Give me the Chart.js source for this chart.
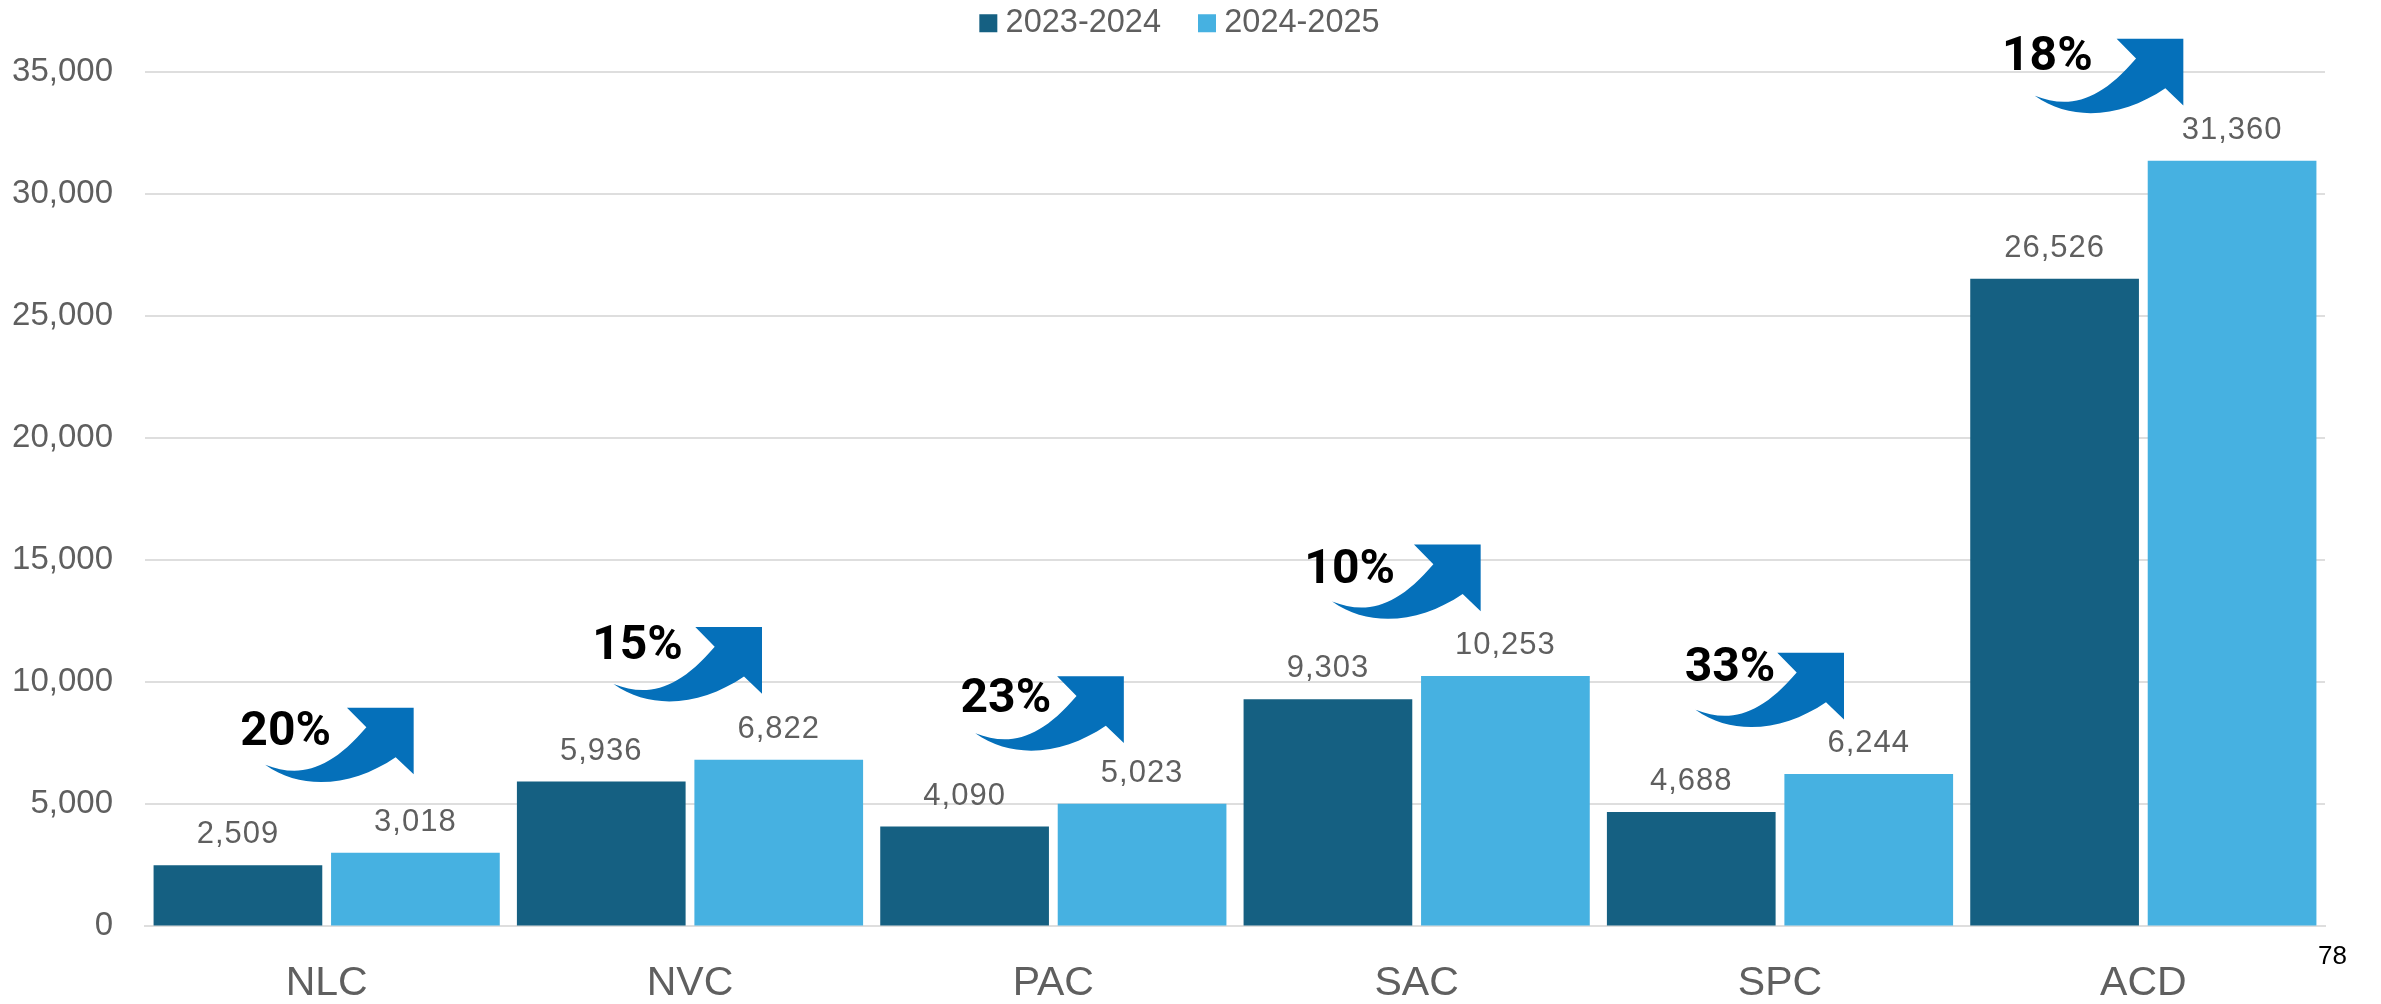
<!DOCTYPE html>
<html><head><meta charset="utf-8">
<style>html,body{margin:0;padding:0;background:#fff}canvas{display:block}</style>
<script src="https://cdn.jsdelivr.net/npm/chart.js@4/dist/chart.umd.js"></script>
</head><body><canvas id="c" width="2381" height="1004"></canvas>
<script>
const categories = ["NLC","NVC","PAC","SAC","SPC","ACD"];
const series2324 = [2509,5936,4090,9303,4688,26526];
const series2425 = [3018,6822,5023,10253,6244,31360];
const growthLabels = ["20%","15%","23%","10%","33%","18%"];
const yTicks = [0,5000,10000,15000,20000,25000,30000,35000];
const pageNumber = "78";

// arrow anchor (top right corner) as [pixels from category centre, axis value]
const arrowAnchors = [[87,8960],[72,12262],[70.5,10245],[64,15646],[64,11210],[40,36360]];
// label centre relative to arrow corner
const labelOffsets = [[-128,25],[-124.5,20],[-118,23],[-131,26],[-114,16],[-136,19]];

const FONT = '"Liberation Sans", Arial, sans-serif';
const GREY = '#5f5f5f';

const overlay = {
  id:'overlay',
  afterLayout(chart){
    const l = chart.legend;
    l.left += 21; l.right += 21; l.top -= 22.5; l.bottom -= 22.5;
  },
  afterDatasetsDraw(chart){
    const ctx = chart.ctx, xs = chart.scales.x, ys = chart.scales.y;
    ctx.save();
    ctx.font = '31px '+FONT; ctx.fillStyle = GREY;
    ctx.letterSpacing='1px';
    ctx.textAlign='center'; ctx.textBaseline='middle';
    chart.data.datasets.forEach((d,i)=>{
      chart.getDatasetMeta(i).data.forEach((bar,j)=>{
        ctx.fillText(d.data[j].toLocaleString('en-US'), bar.x, bar.y-30.5);
      });
    });
    ctx.letterSpacing='0px';
    categories.forEach((c,i)=>{
      const cx = xs.getPixelForValue(i)+arrowAnchors[i][0];
      const cy = ys.getPixelForValue(arrowAnchors[i][1]);
      ctx.beginPath();
      ctx.moveTo(cx,cy);
      ctx.lineTo(cx,cy+66.7);
      ctx.lineTo(cx-18,cy+49.5);
      ctx.bezierCurveTo(cx-60,cy+78,cx-110,cy+84,cx-148.5,cy+57);
      ctx.bezierCurveTo(cx-115,cy+70,cx-85,cy+64,cx-47.3,cy+19.7);
      ctx.lineTo(cx-66.7,cy);
      ctx.closePath();
      ctx.fillStyle='#0570BA'; ctx.fill();
    });
    ctx.font='bold 49px Roboto, sans-serif'; ctx.fillStyle='#000';
    categories.forEach((c,i)=>{
      const cx = xs.getPixelForValue(i)+arrowAnchors[i][0];
      const cy = ys.getPixelForValue(arrowAnchors[i][1]);
      ctx.save();
      ctx.translate(cx+labelOffsets[i][0], cy+labelOffsets[i][1]);
      ctx.scale(0.98,1);
      ctx.fillText(growthLabels[i],0,0);
      ctx.restore();
    });
    ctx.font='26px '+FONT; ctx.textAlign='left'; ctx.fillStyle='#000';
    ctx.fillText(pageNumber, 2318, 957);
    ctx.restore();
  }
};

new Chart(document.getElementById('c'),{
  type:'bar',
  data:{labels:categories,datasets:[
    {label:'2023-2024',data:series2324,backgroundColor:'#156082'},
    {label:'2024-2025',data:series2425,backgroundColor:'#46B1E1'}
  ]},
  options:{
    responsive:false,animation:false,devicePixelRatio:1,
    layout:{padding:{left:0,right:56,top:-15.5,bottom:0}},
    datasets:{bar:{categoryPercentage:0.977,barPercentage:0.9505}},
    plugins:{
      tooltip:{enabled:false},
      legend:{position:'top',labels:{usePointStyle:true,pointStyle:'rect',boxWidth:2,boxHeight:18,padding:45,color:GREY,font:{family:FONT,size:32.5}}}
    },
    scales:{
      x:{
        grid:{display:false},border:{color:'#DEDEDE',width:2},
        ticks:{color:GREY,font:{family:FONT,size:41},padding:25,maxRotation:0},
        afterFit(s){s.height=77.6;}
      },
      y:{
        min:0,max:35000,
        grid:{color:'#DEDEDE',lineWidth:2,drawTicks:false},border:{display:false},
        afterBuildTicks(s){s.ticks=yTicks.map(v=>({value:v}));},
        ticks:{color:GREY,font:{family:FONT,size:33},padding:32,callback:v=>v.toLocaleString('en-US')},
        afterFit(s){s.width=145;}
      }
    }
  },
  plugins:[overlay]
});
</script></body></html>
